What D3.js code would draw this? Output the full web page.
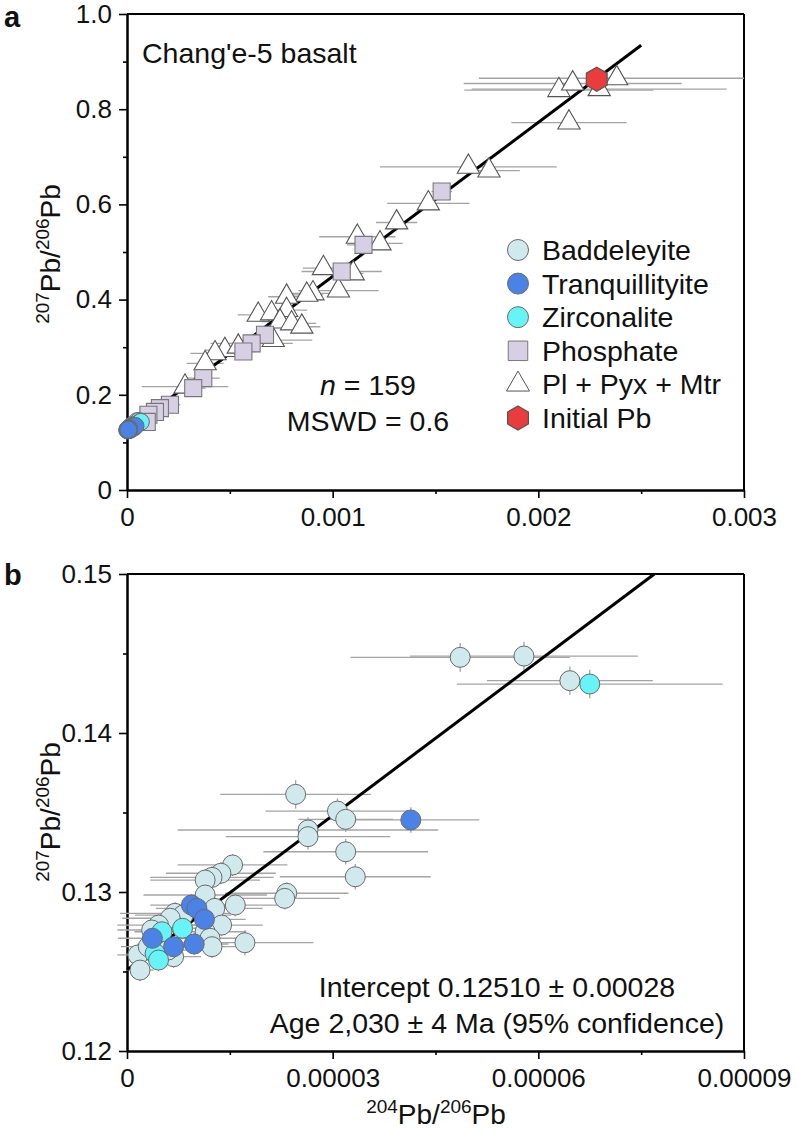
<!DOCTYPE html>
<html><head><meta charset="utf-8">
<script src="https://cdn.jsdelivr.net/npm/d3@7"></script>
<style>body{margin:0;background:#fff} svg{display:block} text{font-family:"Liberation Sans",Arial,Helvetica,sans-serif;fill:#111}</style>
</head><body><svg id="c" width="797" height="1137"></svg>
<script>
// ---------- DATA ----------
// Panel a: [204Pb/206Pb, 207Pb/206Pb, xerr, yerr]
const plPyxMtr = [
 [0.00210, 0.840, 0.00046, 0.012],
 [0.002167, 0.854, 0.00053, 0.012],
 [0.002296, 0.842, 0.00062, 0.012],
 [0.002381, 0.865, 0.00067, 0.012],
 [0.002149, 0.772, 0.00028, 0.012],
 [0.00166, 0.679, 0.00043, 0.01],
 [0.00176, 0.671, 0.00015, 0.01],
 [0.001465, 0.602, 0.0002, 0.01],
 [0.001311, 0.562, 0.0001, 0.01],
 [0.00112, 0.532, 0.000185, 0.01],
 [0.00123, 0.518, 0.00011, 0.01],
 [0.000955, 0.466, 0.0001, 0.008],
 [0.0011, 0.455, 0.00005, 0.008],
 [0.001028, 0.419, 0.000195, 0.008],
 [0.000904, 0.413, 0.0001, 0.008],
 [0.000874, 0.41, 0.00008, 0.008],
 [0.000776, 0.406, 0.00009, 0.008],
 [0.000638, 0.368, 0.0001, 0.008],
 [0.000703, 0.371, 0.00008, 0.008],
 [0.000776, 0.378, 0.0001, 0.008],
 [0.000744, 0.354, 0.00009, 0.008],
 [0.0008, 0.35, 0.00012, 0.008],
 [0.00085, 0.343, 0.00009, 0.008],
 [0.000711, 0.315, 0.00019, 0.008],
 [0.000476, 0.294, 0.0001, 0.008],
 [0.000428, 0.287, 0.00012, 0.008],
 [0.00038, 0.266, 0.00009, 0.008],
 [0.000541, 0.301, 0.00008, 0.008],
 [0.000282, 0.217, 0.00021, 0.008]
];
const phosphate = [
 [0.00153, 0.627, 0.00005, 0.008],
 [0.00115, 0.515, 0.00008, 0.008],
 [0.001044, 0.459, 0.000195, 0.008],
 [0.000671, 0.326, 0.00006, 0.008],
 [0.000606, 0.308, 0.0002, 0.008],
 [0.000566, 0.291, 0.00006, 0.008],
 [0.000371, 0.235, 0.00008, 0.008],
 [0.000322, 0.214, 0.00006, 0.008],
 [0.000209, 0.179, 0.00005, 0.008],
 [0.00016, 0.172, 0.00005, 0.008],
 [0.000136, 0.164, 0.00005, 0.008],
 [0.000104, 0.158, 0.00005, 0.008],
 [0.000096, 0.143, 0.00005, 0.008]
];
const initialPb = [[0.002284, 0.863]];
// Shared (panel a and b)
const baddeleyite = [
 [4.86e-5, 0.14476, 1.6e-5, 0.0009],
 [5.79e-5, 0.14484, 1.66e-5, 0.0009],
 [6.46e-5, 0.14329, 1.21e-5, 0.0009],
 [2.46e-5, 0.13614, 1.1e-5, 0.0009],
 [3.07e-5, 0.13509, 1.05e-5, 0.0008],
 [3.19e-5, 0.13457, 0.69e-5, 0.0008],
 [2.64e-5, 0.1339, 1.9e-5, 0.0008],
 [2.64e-5, 0.13348, 1.2e-5, 0.0008],
 [3.19e-5, 0.13253, 1.2e-5, 0.0008],
 [3.33e-5, 0.13096, 1.1e-5, 0.0008],
 [1.54e-5, 0.1317, 0.8e-5, 0.0007],
 [1.37e-5, 0.13118, 0.8e-5, 0.0007],
 [1.24e-5, 0.13092, 0.9e-5, 0.0007],
 [1.14e-5, 0.13075, 0.8e-5, 0.0007],
 [2.33e-5, 0.12992, 0.9e-5, 0.0007],
 [2.30e-5, 0.1296, 0.8e-5, 0.0007],
 [1.14e-5, 0.12981, 0.9e-5, 0.0007],
 [1.58e-5, 0.12918, 0.7e-5, 0.0007],
 [1.28e-5, 0.12897, 0.7e-5, 0.0007],
 [1.38e-5, 0.12792, 0.6e-5, 0.0007],
 [1.14e-5, 0.1275, 0.6e-5, 0.0007],
 [1.21e-5, 0.12709, 0.6e-5, 0.0007],
 [1.72e-5, 0.12681, 1.0e-5, 0.0008],
 [1.24e-5, 0.12656, 0.6e-5, 0.0007],
 [0.70e-5, 0.12866, 0.8e-5, 0.0007],
 [0.82e-5, 0.12855, 0.7e-5, 0.0007],
 [0.63e-5, 0.12835, 0.7e-5, 0.0007],
 [0.46e-5, 0.12792, 0.6e-5, 0.0007],
 [0.36e-5, 0.12761, 0.5e-5, 0.0007],
 [0.68e-5, 0.12593, 0.4e-5, 0.0007],
 [0.60e-5, 0.12635, 0.5e-5, 0.0007],
 [0.16e-5, 0.12604, 0.3e-5, 0.0007],
 [0.19e-5, 0.12509, 0.2e-5, 0.0007],
 [0.31e-5, 0.12656, 0.4e-5, 0.0007]
];
const tranquillityite = [
 [4.14e-5, 0.13453, 1.0e-5, 0.0008],
 [0.94e-5, 0.12918, 0.6e-5, 0.0007],
 [1.02e-5, 0.12897, 0.6e-5, 0.0007],
 [1.13e-5, 0.12828, 0.6e-5, 0.0007],
 [0.98e-5, 0.12673, 0.5e-5, 0.0007],
 [0.37e-5, 0.12709, 0.5e-5, 0.0007],
 [0.68e-5, 0.12656, 0.4e-5, 0.0007]
];
const zirconalite = [
 [6.75e-5, 0.14308, 1.94e-5, 0.0009],
 [0.81e-5, 0.12772, 0.5e-5, 0.0007],
 [0.51e-5, 0.1275, 0.4e-5, 0.0007],
 [0.41e-5, 0.12614, 0.4e-5, 0.0007],
 [0.46e-5, 0.12572, 0.3e-5, 0.0007]
];
// Isochron
const intercept = 0.1251;
const slope = 323.7;
const lineEndA = 0.0025;
// Ticks
const xTicksA = [0, 0.001, 0.002, 0.003], xMinorA = [0.0005, 0.0015, 0.0025];
const yTicksA = [0, 0.2, 0.4, 0.6, 0.8, 1.0], yMinorA = [0.1, 0.3, 0.5, 0.7, 0.9];
const xTicksB = [0, 0.00003, 0.00006, 0.00009], xMinorB = [0.000015, 0.000045, 0.000075];
const yTicksB = [0.12, 0.13, 0.14, 0.15], yMinorB = [0.125, 0.135, 0.145];
const xLabelsA = ["0", "0.001", "0.002", "0.003"];
const yLabelsA = ["0", "0.2", "0.4", "0.6", "0.8", "1.0"];
const xLabelsB = ["0", "0.00003", "0.00006", "0.00009"];
const yLabelsB = ["0.12", "0.13", "0.14", "0.15"];
const legendItems = ["Baddeleyite", "Tranquillityite", "Zirconalite", "Phosphate", "Pl + Pyx + Mtr", "Initial Pb"];

// ---------- STYLE ----------
const C = {bad:"#cfe9ed", tra:"#4b82e6", zir:"#66f4f6", pho:"#d7d0e5", tri:"#ffffff", hex:"#ea3c3c", stroke:"#6a6a6a", err:"#a4a4a4"};
const FS = 28.5;
const svg = d3.select("#c");
const L = 127, R = 744;
const xA = d3.scaleLinear([0, 0.003], [L, R]);
const yA = d3.scaleLinear([0, 1], [490, 14]);
const xB = d3.scaleLinear([0, 0.00009], [L, R]);
const yB = d3.scaleLinear([0.12, 0.15], [1051, 574]);

function frame(x, y, xt, xm, xl, yt, ym, yl) {
  const g = svg.append("g");
  const [x0, x1] = x.range(), [y0, y1] = y.range();
  g.append("g").attr("transform", `translate(0,${y0})`)
    .call(d3.axisBottom(x).tickValues(xt).tickSize(8).tickSizeOuter(0).tickPadding(10).tickFormat((d,i)=>xl[i]));
  g.append("g").attr("transform", `translate(0,${y0})`)
    .call(d3.axisBottom(x).tickValues(xm).tickSize(4).tickSizeOuter(0).tickFormat(""));
  g.append("g").attr("transform", `translate(${x0},0)`)
    .call(d3.axisLeft(y).tickValues(yt).tickSize(8).tickSizeOuter(0).tickPadding(7).tickFormat((d,i)=>yl[i]));
  g.append("g").attr("transform", `translate(${x0},0)`)
    .call(d3.axisLeft(y).tickValues(ym).tickSize(4).tickSizeOuter(0).tickFormat(""));
  g.selectAll(".domain").attr("stroke", "#000").attr("stroke-width", 2);
  g.selectAll(".tick line").attr("stroke", "#000").attr("stroke-width", 1.6);
  g.selectAll(".tick text").attr("font-size", 26).attr("fill", "#111")
    .style("font-family", '"Liberation Sans",Arial,sans-serif');
  g.append("line").attr("x1", x0).attr("x2", x1).attr("y1", y1).attr("y2", y1).attr("stroke", "#000").attr("stroke-width", 2);
  g.append("line").attr("x1", x1).attr("x2", x1).attr("y1", y0).attr("y2", y1).attr("stroke", "#000").attr("stroke-width", 2);
}

function errbars(g, data, x, y) {
  data.forEach(d => {
    g.append("line").attr("x1", x(d[0]-d[2])).attr("x2", Math.min(x(d[0]+d[2]), R)).attr("y1", y(d[1])).attr("y2", y(d[1]))
      .attr("stroke", C.err).attr("stroke-width", 1.3);
    g.append("line").attr("x1", x(d[0])).attr("x2", x(d[0])).attr("y1", y(d[1]-d[3])).attr("y2", y(d[1]+d[3]))
      .attr("stroke", C.err).attr("stroke-width", 1.3);
  });
}
function circles(g, data, x, y, r, fill) {
  g.selectAll(null).data(data).join("circle").attr("cx", d=>x(d[0])).attr("cy", d=>y(d[1])).attr("r", r)
    .attr("fill", fill).attr("stroke", C.stroke).attr("stroke-width", 1);
}
function symbols(g, data, x, y, type, size, fill, stroke) {
  g.selectAll(null).data(data).join("path").attr("transform", d=>`translate(${x(d[0])},${y(d[1])})`)
    .attr("d", d3.symbol().type(type).size(size)()).attr("fill", fill).attr("stroke", stroke).attr("stroke-width", 1.1);
}
function hexPath(r) {
  const pts = d3.range(6).map(i => { const a = Math.PI/3*i - Math.PI/2; return [r*Math.cos(a), r*Math.sin(a)]; });
  return "M" + pts.join("L") + "Z";
}

// ---------- PANEL A ----------
frame(xA, yA, xTicksA, xMinorA, xLabelsA, yTicksA, yMinorA, yLabelsA);
const gA = svg.append("g");
errbars(gA, plPyxMtr, xA, yA);
errbars(gA, phosphate, xA, yA);
gA.append("line").attr("x1", xA(0)).attr("y1", yA(intercept)).attr("x2", xA(lineEndA)).attr("y2", yA(intercept + slope*lineEndA))
  .attr("stroke", "#000").attr("stroke-width", 3);
symbols(gA, plPyxMtr, xA, yA, d3.symbolTriangle, 215, C.tri, "#555");
symbols(gA, phosphate, xA, yA, d3.symbolSquare, 290, C.pho, "#777");
circles(gA, baddeleyite, xA, yA, 8.5, C.bad);
circles(gA, zirconalite, xA, yA, 8.5, C.zir);
circles(gA, tranquillityite, xA, yA, 8.5, C.tra);
gA.selectAll(null).data(initialPb).join("path").attr("transform", d=>`translate(${xA(d[0])},${yA(d[1])})`)
  .attr("d", hexPath(12)).attr("fill", C.hex).attr("stroke", "#555").attr("stroke-width", 1.2);

svg.append("text").attr("x", 142).attr("y", 63).attr("font-size", FS).text("Chang'e-5 basalt");
const t1 = svg.append("text").attr("x", 368).attr("y", 395).attr("font-size", FS).attr("text-anchor", "middle");
t1.append("tspan").attr("font-style", "italic").text("n");
t1.append("tspan").text(" = 159");
svg.append("text").attr("x", 368).attr("y", 431).attr("font-size", FS).attr("text-anchor", "middle").text("MSWD = 0.6");

// legend
const lg = svg.append("g");
const ly0 = 250, ldy = 33.6, lx = 518;
legendItems.forEach((name, i) => {
  const cy = ly0 + i*ldy;
  const s = lg.append("g").attr("transform", `translate(${lx},${cy})`);
  if (i === 0) s.append("circle").attr("r", 10.5).attr("fill", C.bad).attr("stroke", C.stroke);
  if (i === 1) s.append("circle").attr("r", 10.5).attr("fill", C.tra).attr("stroke", C.stroke);
  if (i === 2) s.append("circle").attr("r", 10.5).attr("fill", C.zir).attr("stroke", C.stroke);
  if (i === 3) s.append("path").attr("d", d3.symbol().type(d3.symbolSquare).size(380)()).attr("fill", C.pho).attr("stroke", "#777");
  if (i === 4) s.append("path").attr("d", d3.symbol().type(d3.symbolTriangle).size(230)()).attr("fill", "#fff").attr("stroke", "#555");
  if (i === 5) s.append("path").attr("d", hexPath(12)).attr("fill", C.hex).attr("stroke", "#555").attr("stroke-width", 1.2);
  lg.append("text").attr("x", lx + 24).attr("y", cy + 10).attr("font-size", FS).text(name);
});

// ---------- PANEL B ----------
frame(xB, yB, xTicksB, xMinorB, xLabelsB, yTicksB, yMinorB, yLabelsB);
const gB = svg.append("g");
errbars(gB, baddeleyite, xB, yB);
errbars(gB, tranquillityite, xB, yB);
errbars(gB, zirconalite, xB, yB);
const xTopB = (0.15 - intercept) / slope;
gB.append("line").attr("x1", xB(0)).attr("y1", yB(intercept)).attr("x2", xB(xTopB)).attr("y2", yB(0.15))
  .attr("stroke", "#000").attr("stroke-width", 3);
circles(gB, baddeleyite, xB, yB, 10, C.bad);
circles(gB, zirconalite, xB, yB, 10, C.zir);
circles(gB, tranquillityite, xB, yB, 10, C.tra);
svg.append("text").attr("x", 497).attr("y", 997).attr("font-size", FS).attr("text-anchor", "middle").text("Intercept 0.12510 ± 0.00028");
svg.append("text").attr("x", 497).attr("y", 1033).attr("font-size", FS).attr("text-anchor", "middle").text("Age 2,030 ± 4 Ma (95% confidence)");

// ---------- TITLES ----------
function pbLabel(sel, a, b) {
  sel.append("tspan").attr("font-size", 19).attr("dy", -11).text(a);
  sel.append("tspan").attr("font-size", 28).attr("dy", 11).text("Pb/");
  sel.append("tspan").attr("font-size", 19).attr("dy", -11).text(b);
  sel.append("tspan").attr("font-size", 28).attr("dy", 11).text("Pb");
}
pbLabel(svg.append("text").attr("text-anchor", "middle").attr("transform", "translate(60,254) rotate(-90)"), "207", "206");
pbLabel(svg.append("text").attr("text-anchor", "middle").attr("transform", "translate(60,812) rotate(-90)"), "207", "206");
pbLabel(svg.append("text").attr("text-anchor", "middle").attr("x", 436).attr("y", 1124), "204", "206");

svg.append("text").attr("x", 4).attr("y", 27).attr("font-size", 29).attr("font-weight", "bold").text("a");
svg.append("text").attr("x", 4).attr("y", 585).attr("font-size", 29).attr("font-weight", "bold").text("b");
</script></body></html>
